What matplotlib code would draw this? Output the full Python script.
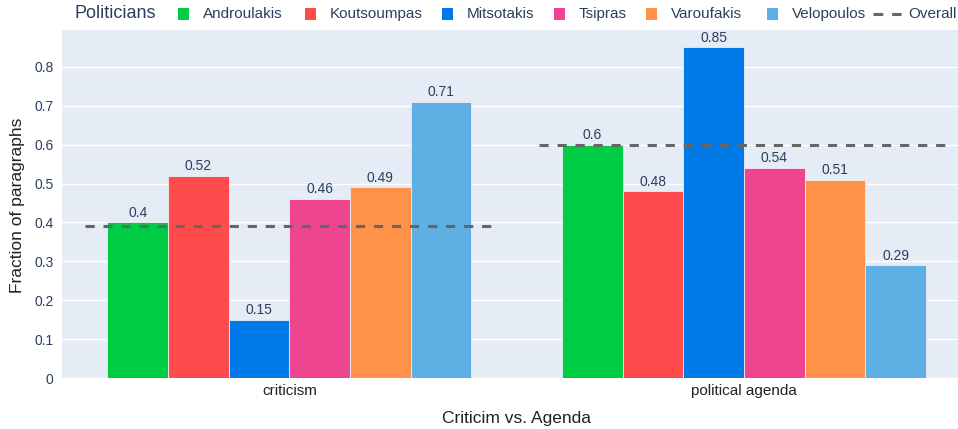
import matplotlib.pyplot as plt
import matplotlib.patches as mpatches
import numpy as np

# data
categories = ['criticism', 'political agenda']
politicians = ['Androulakis', 'Koutsoumpas', 'Mitsotakis', 'Tsipras', 'Varoufakis', 'Velopoulos']
values = {
    'Androulakis': [0.40, 0.60],
    'Koutsoumpas': [0.52, 0.48],
    'Mitsotakis': [0.15, 0.85],
    'Tsipras': [0.46, 0.54],
    'Varoufakis': [0.49, 0.51],
    'Velopoulos': [0.71, 0.29],
}
overall = [0.39, 0.60]
colors = ['#00CC44', '#FF4B4B', '#0079E8', '#EE4591', '#FF9248', '#5DAFE4']

plt.rcParams['font.family'] = ['Liberation Sans', 'DejaVu Sans']
txt_col = '#2a3f5f'
line_col = '#666666'

fig = plt.figure(figsize=(9.58, 4.29), dpi=100)
W, H = 958, 429
# plot area in pixels (right edge is cut off in the reference)
left, right, top, bottom = 62, 971.5, 30, 378
ax = fig.add_axes([left / W, 1 - bottom / H, (right - left) / W, (bottom - top) / H])
ax.set_facecolor('#E5ECF6')

x = np.arange(len(categories))
n = len(politicians)
bw = 0.8 / n
for i, p in enumerate(politicians):
    pos = x - 0.4 + bw * (i + 0.5)
    ax.bar(pos, values[p], width=bw, color=colors[i], edgecolor='#EDEDF4',
           linewidth=0.6, zorder=2)
    for xp, v in zip(pos, values[p]):
        ax.text(xp, v + 0.007, f'{v:g}', ha='center', va='bottom', fontsize=10,
                color=txt_col, zorder=4)

for xc, ov in zip(x, overall):
    ax.plot([xc - 0.45, xc + 0.45], [ov, ov], color=line_col, lw=2.2,
            dashes=(3, 2.9), zorder=3)

ax.set_xlim(-0.5, 1.5)
ax.set_ylim(0, 0.895)
ax.set_yticks(np.arange(0, 0.81, 0.1))
ax.set_yticklabels(['0'] + [f'{t:.1f}' for t in np.arange(0.1, 0.81, 0.1)])
ax.set_xticks(x)
ax.set_xticklabels(categories)
ax.grid(axis='y', color='white', lw=1, zorder=0)
ax.set_axisbelow(True)
for s in ax.spines.values():
    s.set_visible(False)
ax.tick_params(axis='y', length=0, pad=6, labelsize=10, labelcolor=txt_col)
ax.tick_params(axis='x', length=0, pad=4, labelsize=11, labelcolor='#222222')

fig.text(18 / W, 1 - 205 / H, 'Fraction of paragraphs', rotation=90, ha='center',
         va='center', fontsize=12.5, color='#222222')
fig.text(517 / W, 1 - 418 / H, 'Criticim vs. Agenda', ha='center', va='center',
         fontsize=12.5, color='#222222')

# legend, laid out by hand in pixel coordinates
ly = 1 - 14 / H
fig.text(74 / W, ly, 'Politicians', ha='left', va='center', fontsize=13,
         color=txt_col)
sq_x = [178, 305, 442, 554, 646, 767]
sq = 11
for xs, c, p in zip(sq_x, colors, politicians):
    fig.patches.append(mpatches.Rectangle((xs / W, ly - sq / 2 / H), sq / W, sq / H,
                                          facecolor=c, edgecolor='none',
                                          transform=fig.transFigure, figure=fig))
    fig.text((xs + 25) / W, ly, p, ha='left', va='center', fontsize=11, color=txt_col)
fig.add_artist(plt.Line2D([873 / W, 901 / W], [ly, ly], color=line_col, lw=2.2,
                          dashes=(3.2, 2.9), transform=fig.transFigure))
fig.text(908 / W, ly, 'Overall', ha='left', va='center', fontsize=11, color=txt_col)

fig.savefig('out.png', dpi=100)
